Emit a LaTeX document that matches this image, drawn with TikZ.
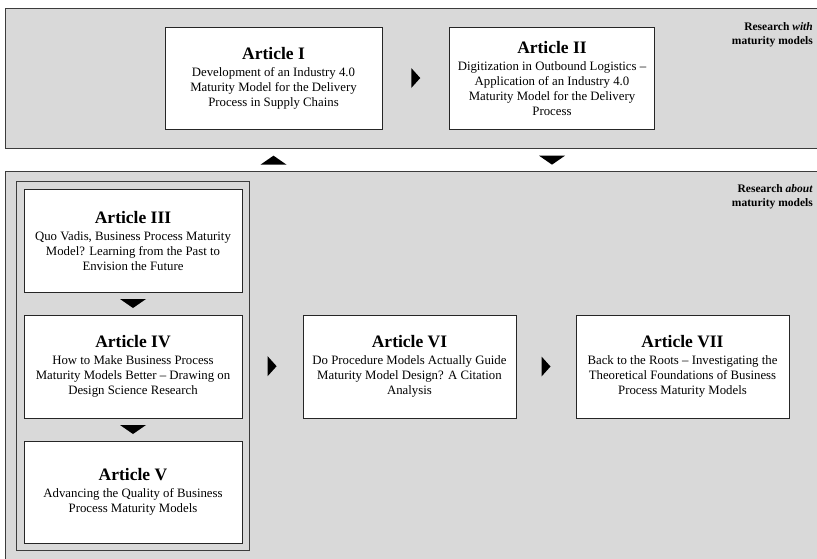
\documentclass[tikz,border=0pt]{standalone}
\usepackage{fontspec}
\setmainfont{Liberation Serif}
\usetikzlibrary{calc,fit}

\definecolor{panelgray}{HTML}{D9D9D9}
\definecolor{panelline}{HTML}{3C3C3C}

\newcommand{\arttitle}[1]{{\fontsize{17.5}{18}\selectfont\bfseries #1}\\[2pt]}

\tikzset{
  panel/.style={fill=panelgray, draw=panelline, line width=1.3pt},
  groupbox/.style={draw=panelline, line width=1.2pt, inner sep=7pt},
  article/.style={fill=white, draw=black!85, line width=0.9pt, align=center,
    inner sep=0pt, font=\fontsize{12.8}{15}\selectfont},
  tag/.style={align=right, anchor=north east, inner sep=0pt,
    font=\fontsize{11.5}{14.5}\selectfont\bfseries},
  pics/rtri/.style={code={\fill (-4.5,-10) -- (4.5,0) -- (-4.5,10) -- cycle;}},
  pics/dtri/.style={code={\fill (-13,-4.5) -- (13,-4.5) -- (0,4.5) -- cycle;}},
  pics/utri/.style={code={\fill (-13,4.5) -- (13,4.5) -- (0,-4.5) -- cycle;}},
}

\begin{document}
\begin{tikzpicture}[x=1pt, y=-1pt]
\useasboundingbox (0,0) rectangle (817,558);
\fill[white] (0,0) rectangle (817,558);
\clip (0,0) rectangle (817,558);

% two research panels
\node[panel, minimum width=830pt, minimum height=140pt, anchor=north west, inner sep=0pt] (top) at (5,8) {};
\node[panel, minimum width=830pt, minimum height=400pt, anchor=north west, inner sep=0pt] (bot) at (5,171) {};

\node[tag] (tagwith) at (813,22) {Research \textit{with}\\ maturity models};
\node[tag] (tagabout) at (813,184) {Research \textit{about}\\ maturity models};

% research with maturity models
\node[article, minimum width=217pt, minimum height=102pt] (b1) at (273.5,78)
  {\arttitle{Article I}Development of an Industry 4.0\\ Maturity Model for the Delivery\\ Process in Supply Chains};
\node[article, minimum width=205pt, minimum height=102pt] (b2) at (552,78)
  {\arttitle{Article II}Digitization in Outbound Logistics –\\ Application of an Industry 4.0\\ Maturity Model for the Delivery\\ Process};

% research about maturity models
\node[article, minimum width=218pt, minimum height=103pt] (b3) at (133,240.5)
  {\arttitle{Article III}Quo Vadis, Business Process Maturity\\ Model? Learning from the Past to\\ Envision the Future};
\node[article, minimum width=218pt, minimum height=103pt] (b4) at (133,366.5)
  {\arttitle{Article IV}How to Make Business Process\\ Maturity Models Better – Drawing on\\ Design Science Research};
\node[article, minimum width=218pt, minimum height=102pt] (b5) at (133,492)
  {\arttitle{Article V}Advancing the Quality of Business\\ Process Maturity Models};
\node[groupbox, fit=(b3)(b4)(b5)] (grp) {};

\node[article, minimum width=213pt, minimum height=103pt] (b6) at (409.5,366.5)
  {\arttitle{Article VI}Do Procedure Models Actually Guide\\ Maturity Model Design? A Citation\\ Analysis};
\node[article, minimum width=213pt, minimum height=103pt] (b7) at (682.5,366.5)
  {\arttitle{Article VII}Back to the Roots – Investigating the\\ Theoretical Foundations of Business\\ Process Maturity Models};

% flow markers
\pic at ($(b1.east)!.5!(b2.west)$) {rtri};
\pic at ($(b1.south |- top.south)!.5!(b1.south |- bot.north)$) {utri};
\pic at ($(b2.south |- top.south)!.5!(b2.south |- bot.north)$) {dtri};
\pic at ($(b3.south)!.5!(b4.north)$) {dtri};
\pic at ($(b4.south)!.5!(b5.north)$) {dtri};
\pic at ($(grp.east)!.42!(b6.west)$) {rtri};
\pic at ($(b6.east)!.5!(b7.west)$) {rtri};
\end{tikzpicture}
\end{document}
